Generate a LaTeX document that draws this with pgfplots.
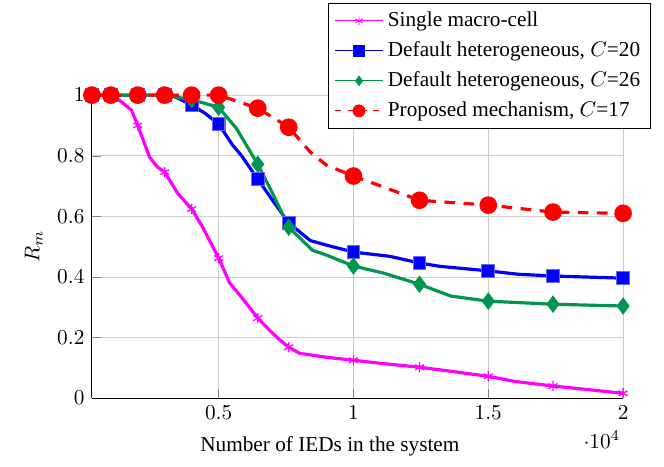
\documentclass[border=0pt]{standalone}
\usepackage{fontspec}
\setmainfont{Liberation Serif}
\usepackage{pgfplots}
\pgfplotsset{compat=1.18}
\definecolor{mgreen}{RGB}{0,150,80}
\definecolor{mmag}{RGB}{255,0,255}
\definecolor{mblue}{RGB}{0,0,255}
\definecolor{mred}{RGB}{255,0,0}

\begin{document}
\begin{tikzpicture}
\begin{axis}[
    scale only axis,
    width=250pt, height=142.6pt,
    xmin=300, xmax=20000,
    ymin=0, ymax=1,
    xtick={5000,10000,15000,20000},
    ytick={0,0.2,0.4,0.6,0.8,1},
    axis x line*=bottom,
    axis y line*=left,
    grid=major,
    major grid style={gray!40, line width=0.4pt},
    clip=false,
    xlabel={Number of IEDs in the system},
    ylabel={$R_m$},
    xlabel style={xshift=-13pt, yshift=-1pt},
    every x tick scale label/.style={at={(xticklabel cs:0.96,2pt)}, anchor=near xticklabel, inner sep=0pt},
    legend style={at={(1.053,1.304)}, anchor=north east, draw=black, fill=white,
        legend cell align=left, font=\normalsize, row sep=1.6pt},
    legend image code/.code={\draw[mark repeat=2,mark phase=2] plot coordinates {(0cm,0cm) (0.4cm,0cm) (0.8cm,0cm)};},
]
% legend entries (thin lines, small marks)
\addlegendimage{mmag, mark=asterisk, mark size=2pt}
\addlegendimage{mblue, mark=square*, mark size=2.5pt}
\addlegendimage{mgreen, mark=diamond*, mark size=2.2pt}
\addlegendimage{mred, dashed, mark=*, mark size=2.8pt, mark options={solid}}

\addplot[forget plot, mmag, line width=1.5pt, mark=asterisk, mark size=2.4pt,
    mark options={line width=0.6pt},
    mark indices={1,2,5,8,10,12,15,18,21,23,25,27,29}] coordinates {
(300,1) (1000,1) (1325,0.983) (1770,0.95) (2000,0.90) (2440,0.795) (2740,0.762)
(3000,0.746) (3480,0.676) (4000,0.624) (4410,0.564) (5000,0.462) (5410,0.38)
(5850,0.333) (6450,0.264) (6780,0.234) (7190,0.198) (7600,0.168) (8000,0.148)
(9000,0.135) (10000,0.125) (11000,0.115) (12450,0.102) (13500,0.09) (15000,0.072)
(16000,0.055) (17400,0.04) (18500,0.03) (20000,0.016)
};
\addplot[forget plot, mblue, line width=1.5pt, mark=square*, mark size=3pt,
    mark options={draw=mblue!60, line width=0.5pt, fill=mblue},
    mark indices={1,2,3,4,6,8,11,13,16,18,20,22,23}] coordinates {
(300,1) (1000,1) (2000,1) (3000,1) (3300,0.998) (4000,0.967) (4500,0.94)
(5000,0.904) (5520,0.835) (5850,0.80) (6450,0.723) (7000,0.653) (7600,0.578)
(8400,0.52) (9000,0.505) (10000,0.482) (11350,0.468) (12450,0.446) (13200,0.435)
(15000,0.42) (16100,0.409) (17400,0.403) (20000,0.396)
};
\addplot[forget plot, mgreen, line width=1.5pt, mark=diamond*, mark size=2.9pt,
    mark indices={1,2,3,4,5,6,8,10,13,15,17,18,19}] coordinates {
(300,1) (1000,1) (2000,1) (3000,1) (4000,0.985) (5000,0.96) (5660,0.89)
(6450,0.772) (7000,0.676) (7600,0.564) (8480,0.488) (9000,0.472) (10000,0.436)
(11100,0.413) (12450,0.376) (13600,0.337) (15000,0.32) (17400,0.31) (20000,0.304)
};
\addplot[forget plot, mred, line width=1.5pt, dash pattern=on 5pt off 4pt, mark=*, mark size=3.4pt,
    mark options={solid},
    mark indices={1,2,3,4,5,6,7,8,11,12,13,14,15}] coordinates {
(300,1) (1000,1) (2000,1) (3000,1) (4000,1) (5000,1) (6450,0.957) (7600,0.894)
(8400,0.812) (9000,0.769) (10000,0.733) (12450,0.653) (15000,0.637) (17400,0.614)
(20000,0.61)
};
\legend{Single macro-cell, {Default heterogeneous, $C$=20}, {Default heterogeneous, $C$=26}, {Proposed mechanism, $C$=17}}
% page extent matching the reference margins
\path (rel axis cs:-0.173,-0.224) rectangle (rel axis cs:1.077,1.314);
\end{axis}
\end{tikzpicture}
\end{document}
